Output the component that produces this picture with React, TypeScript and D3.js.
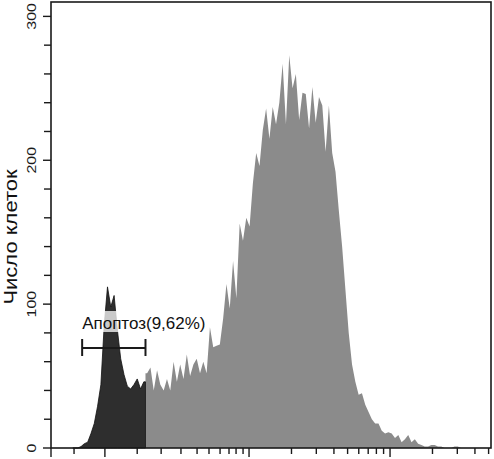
import React from "react";
import * as d3 from "d3";

// ---- data (channel bins, 256 channels per decade) ----
const CH_PER_DECADE = 256;
const BIN_START = 192;
const BIN_WIDTH = 6;
const GATE = [209, 324]; // apoptosis gate, channels

// counts of gated (apoptotic) events, bins 0..21
const apoptosisCounts = [
  0, 0, 1, 3, 4, 10, 17, 29, 44, 85, 112, 98, 106, 82, 62, 51, 43, 41, 44, 48, 41, 46,
];
// counts of the remaining events, bins 22..117
const viableCounts = [
  52, 56, 40, 54, 44, 40, 48, 40, 60, 46, 58, 48, 65, 50, 58, 62, 52, 60, 52, 84,
  70, 71, 72, 90, 114, 97, 130, 104, 156, 144, 160, 154, 184, 205, 196, 221, 236, 215,
  237, 225, 240, 267, 225, 273, 250, 260, 228, 247, 246, 222, 251, 226, 244, 238, 206,
  238, 205, 192, 165, 140, 110, 80, 58, 46, 37, 38, 30, 25, 20, 17, 17, 12, 10, 11, 10,
  7, 9, 4, 6, 9, 4, 6, 3, 2, 1, 1, 2, 2, 1, 1, 0, 0, 0, 1, 1, 0,
];

const Y_MAJOR = [0, 100, 200, 300];
const Y_MINOR = [20, 40, 60, 80, 120, 140, 160, 180, 220, 240, 260, 280];
const X_MAJOR = [3.94, 9.5, 100, 1000];
const X_MINOR = [
  5.74, 16.1, 23.8, 32.9, 42.8, 52, 62.3, 72.1, 80.9, 90.7,
  200, 300, 400, 500, 600, 700, 800, 900, 2000, 3000, 4000, 5000,
];
const X_DOMAIN = [3.94, 5200];
const Y_MAX = 310;

const Y_TITLE = "Число клеток";
const GATE_LABEL = "Апоптоз(9,62%)";

const W = 494;
const H = 459;
const M = { top: 2, right: 3, bottom: 11, left: 51 };

const chToVal = (c: number) => Math.pow(10, c / CH_PER_DECADE);

export default function App() {
  const x = d3.scaleLog().domain(X_DOMAIN).range([M.left, W - M.right]);
  const y = d3.scaleLinear().domain([0, Y_MAX]).range([H - M.bottom, M.top]);

  type P = { c: number; n: number };
  const center = (i: number) => BIN_START + BIN_WIDTH * i + BIN_WIDTH / 2;

  const darkPts: P[] = [{ c: BIN_START, n: 0 }];
  apoptosisCounts.forEach((n, i) => darkPts.push({ c: center(i), n }));
  darkPts.push({ c: GATE[1], n: apoptosisCounts[apoptosisCounts.length - 1] });
  darkPts.push({ c: GATE[1], n: 0 });

  const off = apoptosisCounts.length;
  const grayPts: P[] = [{ c: GATE[1], n: 0 }, { c: GATE[1], n: viableCounts[0] }];
  viableCounts.forEach((n, i) => grayPts.push({ c: center(off + i), n }));
  grayPts.push({ c: center(off + viableCounts.length - 1) + BIN_WIDTH / 2, n: 0 });

  const area = d3
    .area<P>()
    .x((d) => x(chToVal(d.c)))
    .y0(y(0))
    .y1((d) => y(d.n))
    .curve(d3.curveLinear);

  const x0 = M.left;
  const x1 = W - M.right;
  const yb = H - M.bottom;
  const gx0 = x(chToVal(GATE[0]));
  const gx1 = x(chToVal(GATE[1]));
  const font = "'Liberation Sans', Arial, sans-serif";

  return (
    <svg
      width={W}
      height={H}
      style={{ position: "absolute", left: 0, top: 0, display: "block", background: "#fff" }}
      fontFamily={font}
    >
      <path d={area(grayPts) || ""} fill="#8b8b8b" />
      <path d={area(darkPts) || ""} fill="#2e2e2e" stroke="#111" strokeWidth={0.8} />

      {/* gate label */}
      <rect x={gx0 - 2} y={311} width={207 - gx0 + 2} height={21} fill="#fff" fillOpacity={0.75} />
      <text x={gx0} y={329} fontSize={17} fill="#111">
        {GATE_LABEL}
      </text>
      <g stroke="#1a1a1a" strokeWidth={2}>
        <line x1={gx0} x2={gx1} y1={348} y2={348} />
        <line x1={gx0} x2={gx0} y1={339} y2={356} />
        <line x1={gx1} x2={gx1} y1={339} y2={356} />
      </g>

      {/* frame */}
      <rect x={x0} y={M.top} width={x1 - x0} height={yb - M.top} fill="none" stroke="#1a1a1a" strokeWidth={1.6} />

      {/* y ticks */}
      <g stroke="#1a1a1a" strokeWidth={1.4}>
        {Y_MAJOR.map((v) => (
          <line key={"ym" + v} x1={x0 - 8} x2={x0} y1={y(v)} y2={y(v)} />
        ))}
        {Y_MINOR.map((v) => (
          <line key={"yn" + v} x1={x0 - 7} x2={x0} y1={y(v)} y2={y(v)} />
        ))}
      </g>
      {Y_MAJOR.map((v) => (
        <text
          key={"yl" + v}
          transform={`translate(35.5,${y(v)}) rotate(-90) scale(1,0.85)`}
          textAnchor="middle"
          fontSize={16}
          fill="#1a1a1a"
        >
          {v}
        </text>
      ))}
      <text
        transform={`translate(16.5,237) rotate(-90) scale(1,0.8)`}
        textAnchor="middle"
        fontSize={22}
        fill="#111"
      >
        {Y_TITLE}
      </text>

      {/* x ticks */}
      <g stroke="#1a1a1a" strokeWidth={1.4}>
        {X_MAJOR.map((v) => (
          <line key={"xm" + v} x1={x(v)} x2={x(v)} y1={yb} y2={yb + 9} />
        ))}
        {X_MINOR.map((v) => (
          <line key={"xn" + v} x1={x(v)} x2={x(v)} y1={yb} y2={yb + 6} />
        ))}
      </g>
    </svg>
  );
}
